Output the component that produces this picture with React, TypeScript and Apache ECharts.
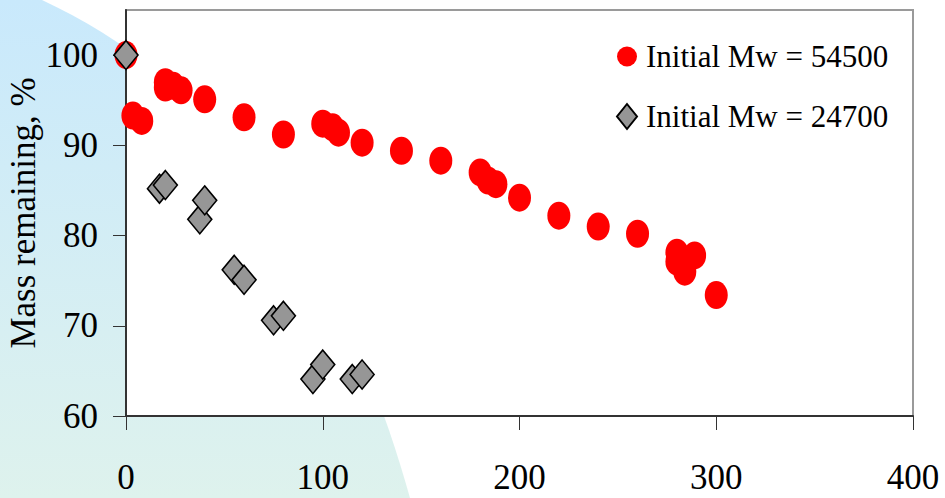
import React, { useEffect, useRef } from "react";
import * as echarts from "echarts";

const seriesNames = ["Initial Mw = 54500", "Initial Mw = 24700"];

// [days, mass remaining %]
const mw54500: [number, number][] = [
  [0, 100], [3.5, 93.3], [8, 92.7], [20, 97.0], [20, 96.4], [24, 96.6], [28, 96.1],
  [40, 95.1], [60, 93.1], [80, 91.2], [100, 92.4], [105, 92.0], [108, 91.4],
  [120, 90.3], [140, 89.4], [160, 88.3], [180, 87.0], [184, 86.1], [188, 85.7],
  [200, 84.2], [220, 82.2], [240, 81.0], [260, 80.2], [280, 78.1], [280, 77.1],
  [289, 77.8], [284, 76.0], [300, 73.4],
];

const mw24700: [number, number][] = [
  [0, 100], [17, 85.2], [20, 85.6], [37.5, 81.8], [40, 83.9], [55, 76.2], [60, 75.1],
  [75, 70.6], [80, 71.1], [95, 64.1], [100, 65.7], [115, 64.1], [120, 64.6],
];

const xTicks = [0, 100, 200, 300, 400];
const yTicks = [60, 70, 80, 90, 100];
const yTitle = "Mass remaining, %";

const ELLIPSE = "path://M50,0 A50,50 0 1,1 50,100 A50,50 0 1,1 50,0 Z";

echarts.graphic.registerShape(
  "bgblob",
  echarts.graphic.extendPath("M0 0 L42 0 C 215 80, 340 248, 410 498 L0 498 Z", {})
);

export default function App() {
  const ref = useRef<HTMLDivElement>(null);
  useEffect(() => {
    document.body.style.margin = "0";
    const chart = echarts.init(ref.current!, null, { renderer: "svg" });
    const font = "'Liberation Serif', 'Times New Roman', serif";
    chart.setOption({
      animation: false,
      backgroundColor: "#ffffff",
      graphic: {
        elements: [
          {
            type: "bgblob",
            x: 0,
            y: 0,
            z: -10,
            silent: true,
            style: {
              fill: new echarts.graphic.LinearGradient(0, 0, 0, 1, [
                { offset: 0, color: "#c9e9fc" },
                { offset: 1, color: "#def2ed" },
              ]),
            },
          },
        ],
      },
      grid: {
        left: 126,
        top: 10,
        right: 32,
        bottom: 82,
        containLabel: false,
        outerBoundsMode: "none",
        show: true,
        backgroundColor: "#ffffff",
        borderColor: "#9a9a9a",
        borderWidth: 2,
      },
      legend: {
        orient: "vertical",
        left: 611,
        top: 36,
        itemWidth: 20,
        itemHeight: 25,
        itemGap: 29,
        data: [
          { name: seriesNames[0], icon: ELLIPSE },
          { name: seriesNames[1], icon: "diamond" },
        ],
        textStyle: {
          fontFamily: font,
          fontSize: 31,
          color: "#000",
          padding: [0, 0, 0, 4],
        },
      },
      xAxis: {
        type: "value",
        min: 0,
        max: 400,
        interval: 100,
        axisLine: { show: true, onZero: false, lineStyle: { color: "#333", width: 2 } },
        axisTick: {
          show: true,
          inside: false,
          length: 14,
          customValues: xTicks,
          lineStyle: { color: "#333", width: 1 },
        },
        axisLabel: {
          customValues: xTicks,
          margin: 44,
          fontFamily: font,
          fontSize: 35,
          color: "#000",
        },
        splitLine: { show: false },
      },
      yAxis: {
        type: "value",
        min: 60,
        max: 105,
        interval: 10,
        name: yTitle,
        nameLocation: "middle",
        nameRotate: 90,
        nameGap: 85,
        nameMoveOverlap: false,
        nameTextStyle: { fontFamily: font, fontSize: 35, color: "#000" },
        axisLine: { show: true, onZero: false, lineStyle: { color: "#333", width: 2 } },
        axisTick: {
          show: true,
          inside: false,
          length: 13,
          customValues: yTicks,
          lineStyle: { color: "#333", width: 1 },
        },
        axisLabel: {
          customValues: yTicks,
          margin: 28,
          fontFamily: font,
          fontSize: 35,
          color: "#000",
        },
        splitLine: { show: false },
      },
      series: [
        {
          name: seriesNames[0],
          type: "scatter",
          data: mw54500,
          symbol: ELLIPSE,
          symbolSize: [23, 28],
          itemStyle: { color: "#ff0000", opacity: 1 },
          z: 2,
        },
        {
          name: seriesNames[1],
          type: "scatter",
          data: mw24700,
          symbol: "diamond",
          symbolSize: [24, 29],
          itemStyle: { color: "#969696", borderColor: "#000", borderWidth: 1.6, opacity: 1 },
          z: 3,
        },
      ],
    });
    return () => chart.dispose();
  }, []);
  return (
    <div
      ref={ref}
      style={{ position: "fixed", left: 0, top: 0, width: 945, height: 498 }}
    />
  );
}
